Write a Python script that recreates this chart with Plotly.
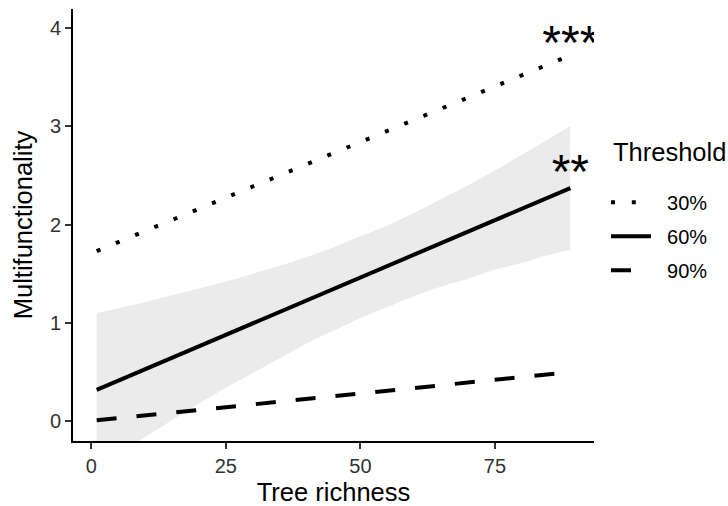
import plotly.graph_objects as go

# Fitted multifunctionality vs. tree richness at three thresholds
richness_ends = [1, 89]
mf_30 = [1.73, 3.72]
mf_60 = [0.32, 2.37]
mf_90 = [0.01, 0.50]

# Confidence band around the 60% fit
band_x = [1, 5, 10, 15, 20, 25, 30, 35, 40, 45, 50, 55, 60, 65, 70, 75, 80, 85, 89]
band_lo = [-0.46, -0.33, -0.16, 0.01, 0.18, 0.34, 0.49, 0.64, 0.79, 0.92, 1.05,
           1.16, 1.27, 1.37, 1.45, 1.54, 1.61, 1.69, 1.74]
band_hi = [1.10, 1.15, 1.21, 1.28, 1.35, 1.42, 1.50, 1.58, 1.67, 1.77, 1.88,
           1.99, 2.12, 2.26, 2.40, 2.55, 2.71, 2.87, 3.00]

# Significance labels at the end of the fits
sig_x = [89, 89]
sig_y = [3.80, 2.49]
sig_text = ["***", "**"]

thresholds = ["30%", "60%", "90%"]

FONT = "Arial, Liberation Sans, sans-serif"
fig = go.Figure()

fig.add_trace(go.Scatter(x=band_x, y=band_lo, mode="lines", line=dict(width=0, shape="spline"),
                         showlegend=False, hoverinfo="skip"))
fig.add_trace(go.Scatter(x=band_x, y=band_hi, mode="lines", line=dict(width=0, shape="spline"),
                         fill="tonexty", fillcolor="rgb(235,235,235)",
                         showlegend=False, hoverinfo="skip"))

styles = ["4px,16.8px", "solid", "20px,20px"]
for name, ys, dash in zip(thresholds, [mf_30, mf_60, mf_90], styles):
    fig.add_trace(go.Scatter(x=richness_ends, y=ys, mode="lines",
                             name="\u00a0\u00a0" + name, legendgroup=name,
                             line=dict(color="black", width=4, dash=dash)))

fig.add_trace(go.Scatter(x=sig_x, y=sig_y, mode="text", text=sig_text,
                         textposition="middle center", cliponaxis=True,
                         textfont=dict(family=FONT, size=48, color="black"),
                         showlegend=False, hoverinfo="skip"))

axis_common = dict(showgrid=False, zeroline=False, showline=True, linecolor="black",
                   linewidth=2, ticks="outside", ticklen=6, tickwidth=2,
                   tickcolor="#333333", tickfont=dict(family=FONT, size=20, color="#333333"))

fig.update_layout(
    width=728, height=506,
    margin=dict(l=73, r=134, t=9, b=65, autoexpand=False),
    plot_bgcolor="white", paper_bgcolor="white",
    xaxis=dict(range=[-3.4, 93.4], tickvals=[0, 25, 50, 75],
               title=dict(text="Tree richness", font=dict(family=FONT, size=25.5, color="black"),
                          standoff=8),
               **axis_common),
    yaxis=dict(range=[-0.2, 4.19], tickvals=[0, 1, 2, 3, 4],
               title=dict(text="Multifunctionality", font=dict(family=FONT, size=25.5, color="black"),
                          standoff=10),
               **axis_common),
    legend=dict(x=1.023, xanchor="left", y=0.598, yanchor="top",
                font=dict(family=FONT, size=20, color="black"),
                itemwidth=40, tracegroupgap=5, bgcolor="rgba(0,0,0,0)"),
    annotations=[dict(text="Threshold", xref="paper", yref="paper", x=1.0326, y=0.669,
                      xanchor="left", yanchor="middle", showarrow=False,
                      font=dict(family=FONT, size=25.5, color="black"))],
)

fig.write_html("out.html")
